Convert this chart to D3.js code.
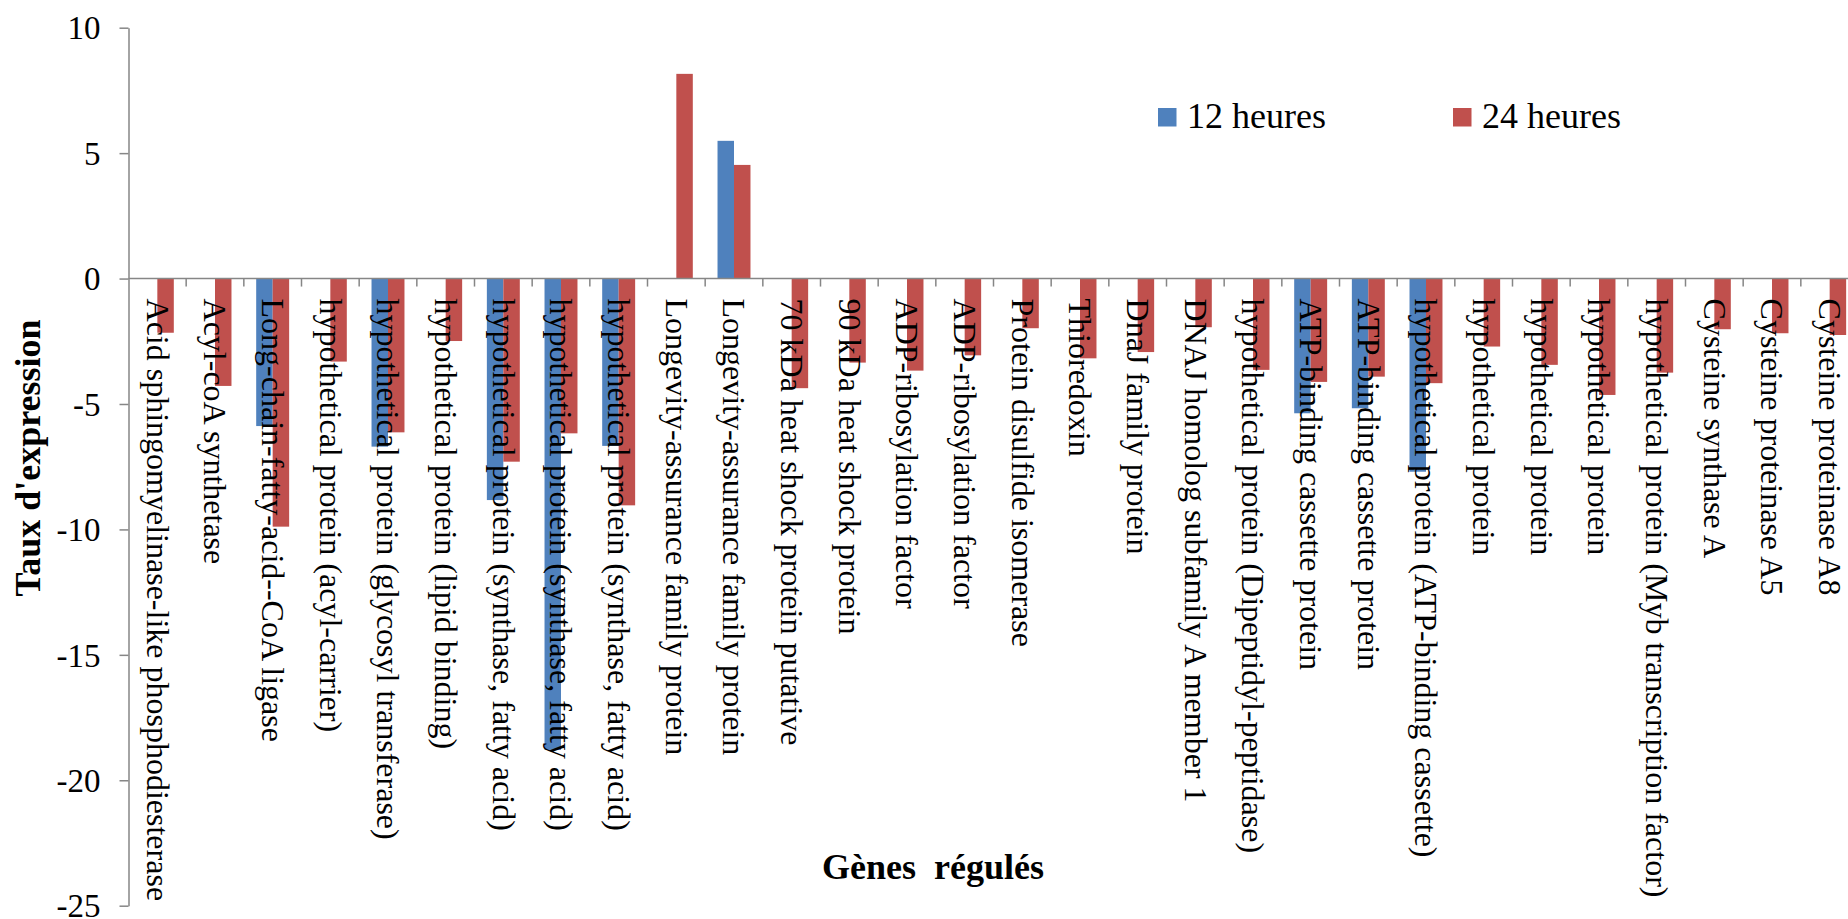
<!DOCTYPE html>
<html>
<head>
<meta charset="utf-8">
<script src="https://cdn.jsdelivr.net/npm/d3@7"></script>
<style>
  html, body { margin: 0; padding: 0; background: #fff; }
  svg { display: block; font-family: "Liberation Serif", "Times New Roman", serif; }
</style>
</head>
<body>
<svg id="chart" width="1848" height="919"></svg>
<script>
const categories = [
  "Acid sphingomyelinase-like phosphodiesterase",
  "Acyl-coA synthetase",
  "Long-chain-fatty-acid--CoA ligase",
  "hypothetical protein (acyl-carrier)",
  "hypothetical protein (glycosyl transferase)",
  "hypothetical protein (lipid binding)",
  "hypothetical protein (synthase, fatty acid)",
  "hypothetical protein (synthase, fatty acid)",
  "hypothetical protein (synthase, fatty acid)",
  "Longevity-assurance family protein",
  "Longevity-assurance family protein",
  "70 kDa heat shock protein putative",
  "90 kDa heat shock protein",
  "ADP-ribosylation factor",
  "ADP-ribosylation factor",
  "Protein disulfide isomerase",
  "Thioredoxin",
  "DnaJ family protein",
  "DNAJ homolog subfamily A member 1",
  "hypothetical protein (Dipeptidyl-peptidase)",
  "ATP-binding cassette protein",
  "ATP-binding cassette protein",
  "hypothetical protein (ATP-binding cassette)",
  "hypothetical protein",
  "hypothetical protein",
  "hypothetical protein",
  "hypothetical protein (Myb transcription factor)",
  "Cysteine synthase A",
  "Cysteine proteinase A5",
  "Cysteine proteinase A8"
];
const seriesNames = ["12 heures", "24 heures"];
const values12h = [null, null, -5.88, null, -6.70, null, -8.83, -18.79, -6.67, null, 5.49,
  null, null, null, null, null, null, null, null, null, -5.37, -5.17, -7.70,
  null, null, null, null, null, null, null];
const values24h = [-2.16, -4.28, -9.89, -3.31, -6.13, -2.49, -7.30, -6.17, -9.04, 8.16, 4.53,
  -4.37, -3.35, -3.67, -3.06, -1.98, -3.18, -2.93, -1.94, -3.64, -4.12, -3.91, -4.17,
  -2.71, -3.44, -4.64, -3.75, -2.02, -2.18, -2.25];
const yTicks = [10, 5, 0, -5, -10, -15, -20, -25];
const yTitle = "Taux d'expression";
const xTitle = "Gènes  régulés";
const colors = ["#4F81BD", "#C0504D"];

const svg = d3.select("#chart");
const x0 = 128.5, x1 = 1858.5, yTop = 27.7, yBot = 905.7;

const x = d3.scaleBand().domain(d3.range(categories.length)).range([x0, x1]).paddingInner(0).paddingOuter(0);
const barW = x.bandwidth() / 3.5;
const xs = d3.scaleBand().domain([0, 1]).range([0, 2 * barW]);
const y = d3.scaleLinear().domain([-25, 10]).range([yBot, yTop]);

const axisColor = "#868686";

// bars
const series = [values12h, values24h];
series.forEach((vals, si) => {
  svg.append("g").selectAll("rect")
    .data(vals.map((v, i) => ({ v, i })).filter(d => d.v !== null))
    .join("rect")
    .attr("x", d => x(d.i) + (x.bandwidth() - 2 * barW) / 2 + xs(si))
    .attr("width", xs.bandwidth())
    .attr("y", d => y(Math.max(0, d.v)))
    .attr("height", d => Math.abs(y(d.v) - y(0)))
    .attr("fill", colors[si]);
});

// y axis
const yAxis = d3.axisLeft(y).tickValues(yTicks).tickSize(9).tickSizeOuter(0).tickFormat(d3.format("d"));
const gy = svg.append("g").attr("transform", `translate(${x0},0)`).call(yAxis);
gy.select(".domain").attr("stroke", axisColor).attr("stroke-width", 1.5);
gy.selectAll(".tick line").attr("stroke", axisColor).attr("stroke-width", 1.5);
gy.selectAll(".tick text")
  .attr("x", -28)
  .attr("dy", "0.34em")
  .attr("fill", "#000")
  .style("font-size", "33px")
  .style("font-family", "'Liberation Serif', 'Times New Roman', serif")
  .text(d => d < 0 ? "-" + Math.abs(d) : d);

// x axis at zero
const boundaries = d3.range(categories.length + 1).map(i => x0 + i * x.bandwidth());
const gx = svg.append("g");
gx.append("line")
  .attr("x1", x0).attr("x2", x1)
  .attr("y1", y(0)).attr("y2", y(0))
  .attr("stroke", axisColor).attr("stroke-width", 1.5);
gx.selectAll("line.tk").data(boundaries.slice(1)).join("line")
  .attr("class", "tk")
  .attr("x1", d => d).attr("x2", d => d)
  .attr("y1", y(0)).attr("y2", y(0) + 8)
  .attr("stroke", axisColor).attr("stroke-width", 1.5);

// category labels (rotated, reading downward)
svg.append("g").selectAll("text")
  .data(categories)
  .join("text")
  .attr("transform", (d, i) => `translate(${x(i) + x.bandwidth() / 2},${y(0) + 20}) rotate(90)`)
  .attr("dy", "0.33em")
  .attr("text-anchor", "start")
  .style("font-size", "32px")
  .attr("fill", "#000")
  .text(d => d);

// axis titles
svg.append("text")
  .attr("transform", `translate(40,458) rotate(-90)`)
  .attr("text-anchor", "middle")
  .style("font-size", "36px")
  .style("font-weight", "bold")
  .text(yTitle);

svg.append("text")
  .attr("x", 933).attr("y", 879)
  .attr("text-anchor", "middle")
  .style("font-size", "36px")
  .style("font-weight", "bold")
  .style("white-space", "pre")
  .attr("xml:space", "preserve")
  .text(xTitle);

// legend
const legendX = [1158, 1453];
const lg = svg.append("g").selectAll("g").data(seriesNames).join("g")
  .attr("transform", (d, i) => `translate(${legendX[i]},0)`);
lg.append("rect").attr("x", 0).attr("y", 108).attr("width", 18.5).attr("height", 18.5)
  .attr("fill", (d, i) => colors[i]);
lg.append("text").attr("x", 29).attr("y", 128.3)
  .style("font-size", "36px").attr("fill", "#000").text(d => d);
</script>
</body>
</html>
